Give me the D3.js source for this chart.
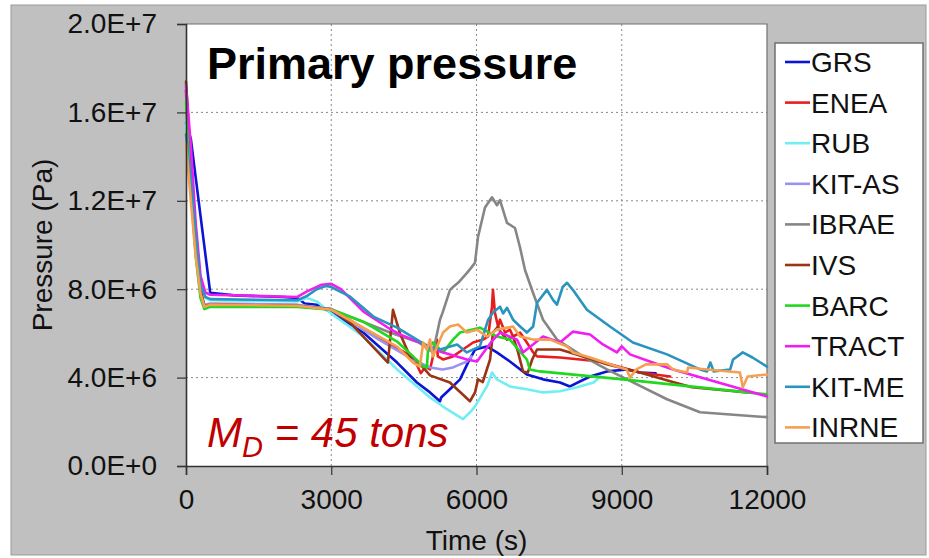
<!DOCTYPE html>
<html>
<head>
<meta charset="utf-8">
<script src="https://cdn.jsdelivr.net/npm/d3@7"></script>
<style>
  html, body { margin: 0; padding: 0; background: #ffffff; }
  svg { display: block; }
  text { font-family: "Liberation Sans", Arial, sans-serif; }
</style>
</head>
<body>
<svg id="chart" width="929" height="558"></svg>
<script>
// ---------------- DATA (time in s, pressure in MPa) ----------------
const seriesNames = ["GRS","ENEA","RUB","KIT-AS","IBRAE","IVS","BARC","TRACT","KIT-ME","INRNE"];
const seriesColors = ["#0a14d2","#e81e1e","#70eef4","#9a92f0","#868686","#9a3414","#1fd81f","#f01ef0","#2b93c0","#f5a050"];

const grsT = [0,100,500,1000,2000,2300,2450,2700,2974,3660,4360,4770,5040,5245,5270,5450,5660,5824,5970,6215,6420,6690,7040,7375,7724,7930,8345,8695,9110,9375,9700];
const grsP = [15.5,14.8,7.84,7.72,7.65,7.6,7.35,7.3,6.98,6.04,4.68,3.78,3.33,2.93,3.1,3.47,3.92,4.68,5.27,5.41,5.14,4.73,4.14,3.92,3.78,3.6,4.05,4.28,4.37,4.23,4.2];

const eneaT = [0,100,200,300,380,500,2300,3000,4000,4700,4850,4950,5040,5180,5200,5310,5515,5720,5930,6135,6240,6320,6340,6380,6445,6485,6590,6690,6755,6900,7040,7170,7250,7724,8550,9375,10000];
const eneaP = [17.0,13.5,10.0,7.8,7.2,7.3,7.25,7.1,5.8,4.9,4.2,4.5,4.37,5.72,4.96,4.82,4.96,5.27,5.59,5.72,5.86,7.21,7.97,6.94,6.31,6.62,6.04,6.17,5.86,6.04,5.59,5.14,4.96,4.91,4.73,4.23,4.05];

const rubT = [0,100,200,300,400,500,2300,2500,2700,2974,3660,4360,5040,5390,5720,5865,5970,6215,6320,6420,6690,7040,7375,7724,8074,8420,8550];
const rubP = [15.5,13.0,10.2,8.2,7.6,7.5,7.45,7.6,7.45,6.94,5.86,4.37,3.1,2.57,2.12,2.43,2.7,3.6,4.23,3.92,3.6,3.47,3.33,3.38,3.56,3.78,4.05];

const kitasT = [0,100,200,300,380,500,2300,3000,4000,4700,5040,5300,5515,5660,5804,5900];
const kitasP = [16.8,12.8,9.8,7.8,7.3,7.35,7.3,7.1,5.7,4.8,4.46,4.37,4.46,4.6,4.73,4.96];

const ibraeT = [0,100,200,300,380,500,2300,3000,4213,4800,5101,5246,5300,5453,5515,5620,5804,5900,5969,6031,6175,6320,6423,6485,6630,6795,6898,7002,7167,7374,7663,8200,8695,9232,9935,10616,12000];
const ibraeP = [17.0,13.3,10.2,7.9,7.25,7.3,7.25,7.1,6.04,5.6,5.14,6.62,6.94,7.97,8.1,8.29,8.74,9.0,9.2,10.36,11.7,12.16,11.8,12.03,11.0,10.77,9.9,8.87,7.84,6.62,5.72,4.96,4.37,3.78,3.02,2.43,2.21];

const ivsT = [0,100,200,300,380,500,2300,3000,3390,4170,4275,4420,4625,4760,5040,5450,5865,5970,6031,6130,6280,6340,6445,6485,6630,6755,6860,6960,7060,7150,7250,7724,8200,8690,9375,10000,10450,11600];
const ivsP = [17.4,13.8,10.4,8.0,7.2,7.3,7.25,7.07,6.49,4.68,7.07,6.0,4.96,4.8,4.1,3.78,2.93,3.33,3.92,3.8,4.82,6.04,6.31,6.1,5.72,5.86,5.14,4.28,4.23,4.82,5.27,5.27,4.96,4.6,4.23,3.83,3.56,3.33];

const barcT = [0,100,200,300,380,500,2300,3000,3660,4360,4690,4900,4975,5000,5100,5310,5515,5660,6070,6420,6690,7040,7100,7310,9025,12000];
const barcP = [16.5,12.5,9.5,7.6,7.1,7.2,7.2,7.07,6.53,5.63,4.96,4.5,4.46,5.3,5.59,5.14,5.72,6.04,6.26,5.86,5.72,4.82,4.37,4.28,3.92,3.24];

const tractT = [0,100,200,300,400,500,2300,2500,2800,3000,3200,3660,4213,4419,5183,5246,5804,6010,6300,6485,6836,6960,7374,7724,7990,8345,8610,8900,9000,9170,9580,10060,12000];
const tractP = [17.2,14.5,11.0,8.6,7.85,7.75,7.65,7.9,8.2,8.24,8.0,7.0,6.2,5.95,5.27,5.18,4.82,4.73,5.6,6.04,5.72,5.14,5.86,5.59,6.08,5.95,5.5,5.14,5.41,5.05,4.73,4.37,3.15];

const kitmeT = [0,100,200,300,400,500,2300,2500,2700,2900,3000,3390,3870,4360,5040,5246,5600,5800,6070,6240,6340,6485,6550,6630,6755,6900,7040,7170,7250,7455,7580,7663,7780,7870,7990,8280,8756,9230,9935,10616,10760,10830,10900,11240,11300,11500,11700,12000];
const kitmeP = [15.0,13.0,10.5,8.2,7.65,7.55,7.5,7.7,8.0,8.15,8.1,7.66,6.76,6.26,5.36,5.27,5.5,5.14,5.41,6.62,6.94,7.21,6.9,7.16,6.62,6.31,6.04,6.31,7.39,7.97,7.52,7.3,8.1,8.29,7.97,7.07,6.31,5.59,5.05,4.37,4.28,4.68,4.28,4.37,4.82,5.14,4.91,4.5];

const inrneT = [0,100,200,300,380,500,2300,3000,4360,4690,4830,4900,4975,5040,5100,5310,5450,5620,5800,6010,6215,6420,6755,6900,7170,7520,7870,7990,8345,8900,9100,9170,9300,9500,9935,10060,10350,10370,10760,11440,11500,11600,12000];
const inrneP = [14.6,12.0,9.5,7.8,7.2,7.3,7.25,7.07,5.4,4.68,4.5,5.59,5.27,5.72,4.96,6.04,6.31,6.4,6.04,6.17,5.86,6.17,6.31,5.86,5.72,5.72,5.41,5.14,4.91,4.5,4.37,4.0,4.37,4.6,4.6,4.37,4.23,4.46,4.37,4.23,3.56,4.05,4.14];

const seriesTimes = [grsT,eneaT,rubT,kitasT,ibraeT,ivsT,barcT,tractT,kitmeT,inrneT];
const seriesValues = [grsP,eneaP,rubP,kitasP,ibraeP,ivsP,barcP,tractP,kitmeP,inrneP];

const xTicks = [0,3000,6000,9000,12000];
const yTicks = [0,4e6,8e6,1.2e7,1.6e7,2e7];
const yTickLabels = ["0.0E+0","4.0E+6","8.0E+6","1.2E+7","1.6E+7","2.0E+7"];

// ---------------- DRAW ----------------
const svg = d3.select("#chart");

// gray slide panel
svg.append("rect").attr("x",11).attr("y",5).attr("width",915).attr("height",550)
  .attr("fill","#c0c0c0").attr("stroke","#9a9a9a").attr("stroke-width",1);

const L = 186, R = 767, T = 24, B = 466;
const x = d3.scaleLinear().domain([0,12000]).range([L,R]);
const y = d3.scaleLinear().domain([0,2e7]).range([B,T]);

// plot area
svg.append("rect").attr("x",L).attr("y",T).attr("width",R-L).attr("height",B-T)
  .attr("fill","#ffffff");

// grid
const grid = svg.append("g");
grid.selectAll("line.h").data(yTicks.filter(v => v>0 && v<2e7)).enter().append("line")
  .attr("x1",L).attr("x2",R).attr("y1",d=>y(d)).attr("y2",d=>y(d))
  .attr("stroke","#888").attr("stroke-width",1).attr("stroke-dasharray","2,3");
grid.selectAll("line.v").data(xTicks.filter(v => v>0 && v<12000)).enter().append("line")
  .attr("y1",T).attr("y2",B).attr("x1",d=>x(d)).attr("x2",d=>x(d))
  .attr("stroke","#888").attr("stroke-width",1).attr("stroke-dasharray","2,3");

// top/right border
svg.append("path").attr("d",`M${L},${T}H${R}V${B}`).attr("fill","none")
  .attr("stroke","#707070").attr("stroke-width",1.2);

// series
const line = d3.line().x(d=>x(d[0])).y(d=>y(d[1]*1e6));
const plot = svg.append("g");
seriesNames.forEach((name,i) => {
  const pts = seriesTimes[i].map((t,k)=>[t, seriesValues[i][k]]);
  plot.append("path").datum(pts).attr("d",line).attr("fill","none")
    .attr("stroke",seriesColors[i]).attr("stroke-width",2.6)
    .attr("stroke-linejoin","round").attr("stroke-linecap","round");
});

// axes
const yAxis = d3.axisLeft(y).tickValues(yTicks).tickSize(9)
  .tickFormat((d,i)=>yTickLabels[i]).tickPadding(20);
const gy = svg.append("g").attr("transform",`translate(${L},0)`).call(yAxis);
gy.select(".domain").attr("stroke","#333").attr("stroke-width",1.6);
gy.selectAll(".tick line").attr("stroke","#333").attr("stroke-width",1.2);
gy.selectAll(".tick text").attr("font-size",28).attr("fill","#111")
  .attr("font-family","'Liberation Sans', Arial, sans-serif");

const xAxis = d3.axisBottom(x).tickValues(xTicks).tickSize(9)
  .tickFormat(d3.format("d")).tickPadding(14);
const gx = svg.append("g").attr("transform",`translate(0,${B})`).call(xAxis);
gx.select(".domain").attr("stroke","#333").attr("stroke-width",1.6);
gx.selectAll(".tick line").attr("stroke","#333").attr("stroke-width",1.2);
gx.selectAll(".tick text").attr("font-size",28).attr("fill","#111")
  .attr("font-family","'Liberation Sans', Arial, sans-serif");

// axis titles
svg.append("text").attr("x",(L+R)/2).attr("y",550).attr("text-anchor","middle")
  .attr("font-size",28).attr("fill","#111").text("Time (s)");
svg.append("text").attr("transform",`translate(52,${(T+B)/2}) rotate(-90)`)
  .attr("text-anchor","middle").attr("font-size",28).attr("fill","#111").text("Pressure (Pa)");

// title
svg.append("text").attr("x",207).attr("y",79).attr("font-size",45).attr("font-weight","bold")
  .attr("fill","#000").text("Primary pressure");

// M_D label
const md = svg.append("text").attr("x",207).attr("y",447).attr("font-size",42)
  .attr("font-style","italic").attr("fill","#c00000");
md.append("tspan").text("M");
md.append("tspan").attr("font-size",29).attr("dy",10).text("D");
md.append("tspan").attr("dy",-10).text(" = 45 tons");

// legend
const lg = svg.append("g");
lg.append("rect").attr("x",775).attr("y",43).attr("width",148).attr("height",400)
  .attr("fill","#ffffff").attr("stroke","#707070").attr("stroke-width",1.5);
seriesNames.forEach((name,i) => {
  const cy = 62 + i*40.6;
  lg.append("line").attr("x1",785).attr("x2",810).attr("y1",cy).attr("y2",cy)
    .attr("stroke",seriesColors[i]).attr("stroke-width",2.6);
  lg.append("text").attr("x",811).attr("y",cy).attr("dy","0.36em")
    .attr("font-size",28).attr("fill","#111").text(name);
});
</script>
</body>
</html>
